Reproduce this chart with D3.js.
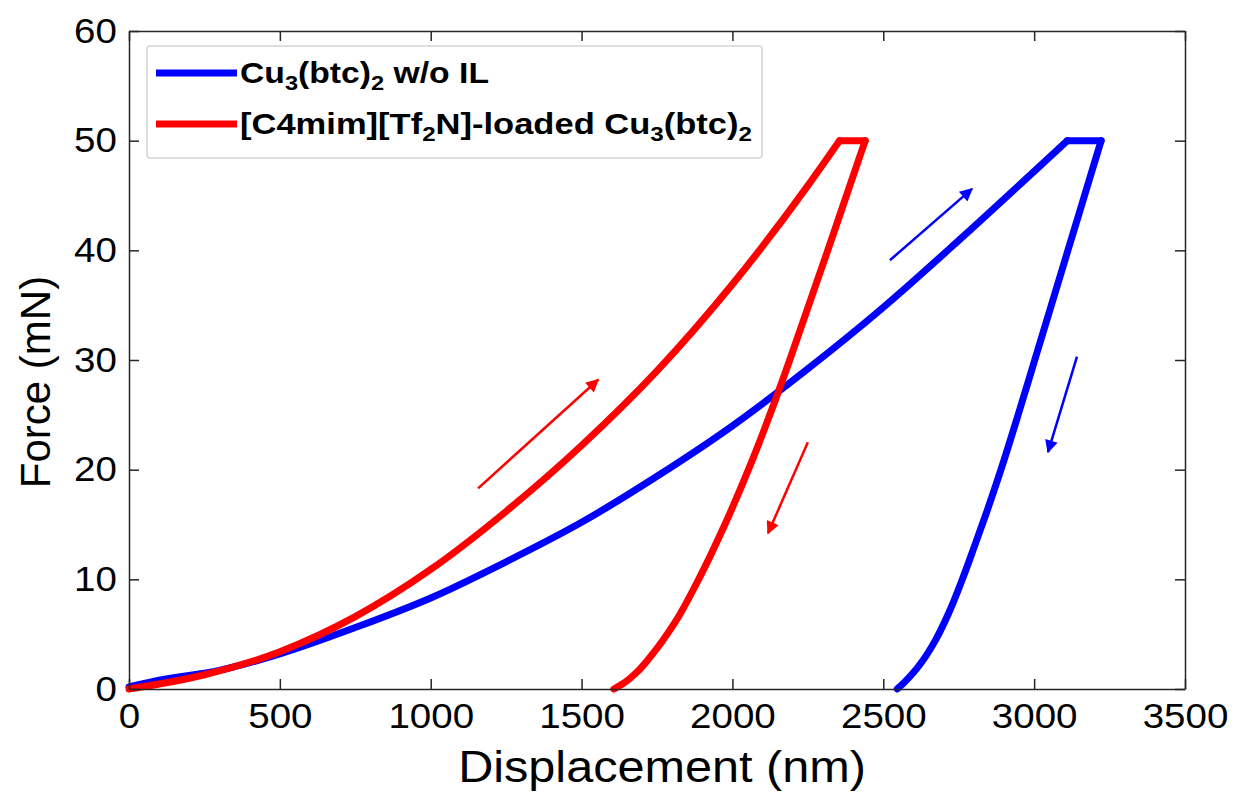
<!DOCTYPE html>
<html>
<head>
<meta charset="utf-8">
<script src="https://cdn.jsdelivr.net/npm/d3@7"></script>
<style>
  body { margin: 0; background: #fff; }
  text { font-family: Arial, "Liberation Sans", Helvetica, sans-serif; fill: #000; }
</style>
</head>
<body>
<script>
let width = 1233;
let height = 797;
let plotLeft = 129, plotRight = 1185, plotTop = 31, plotBottom = 689;

// Cu3(btc)2 w/o IL : loading, hold, unloading
var blueLoadX = [0, 100, 300, 500, 750, 1000, 1250, 1500, 1750, 2000, 2250, 2500, 2750, 3000, 3110];
var blueLoadY = [0.2, 0.8, 1.7, 3.2, 5.6, 8.3, 11.6, 15.2, 19.4, 24.0, 29.2, 34.8, 40.9, 47.2, 50];
var blueHoldX = [3110, 3222];
var blueHoldY = [50, 50];
var blueUnloadX = [3222, 3167, 3112, 3057, 3002, 2947, 2890, 2841, 2802, 2762, 2718, 2674, 2641, 2600, 2566, 2546];
var blueUnloadY = [50, 45, 40, 35, 30, 25, 20, 16, 13, 10, 7, 4.5, 3, 1.5, 0.5, 0];

// [C4mim][Tf2N]-loaded Cu3(btc)2
var redLoadX = [0, 250, 500, 750, 1000, 1250, 1500, 1750, 2000, 2250, 2355];
var redLoadY = [0, 1.3, 3.4, 6.6, 10.9, 16.2, 22.2, 29.0, 36.9, 45.9, 50];
var redHoldX = [2355, 2440];
var redHoldY = [50, 50];
var redUnloadX = [2440, 2378, 2316, 2253, 2190, 2124, 2053, 1975, 1888, 1808, 1730, 1682, 1638, 1607];
var redUnloadY = [50, 45, 40, 35, 30, 25, 20, 15, 10, 6, 3, 1.5, 0.5, 0];

var xTicks = [0, 500, 1000, 1500, 2000, 2500, 3000, 3500];
var yTicks = [0, 10, 20, 30, 40, 50, 60];

// direction arrows [x1, y1, x2, y2]
var redArrows = [[1157, 18.3, 1555, 28.2], [2250, 22.5, 2118, 14.2]];
var blueArrows = [[2522, 39.1, 2794, 45.6], [3142, 30.3, 3046, 21.6]];

var blue = '#0000ff';
var red = '#ff0000';
var axisColor = '#262626';

var svg = d3.select('body')
            .append('svg')
            .attr('width', width)
            .attr('height', height);

var x = d3.scaleLinear().domain([0, 3500]).range([plotLeft, plotRight]);
var y = d3.scaleLinear().domain([0, 60]).range([plotBottom, plotTop]);

function toPoints(xs, ys) {
  return xs.map(function(v, i) { return [v, ys[i]]; });
}

var loadLine = d3.line()
  .x(function(d) { return x(d[0]); })
  .y(function(d) { return y(d[1]); })
  .curve(d3.curveMonotoneX);

// unloading goes back in x, so sort it by force and let it be monotone in y
var unloadLine = d3.line()
  .x(function(d) { return x(d[0]); })
  .y(function(d) { return y(d[1]); })
  .curve(d3.curveMonotoneY);

var holdLine = d3.line()
  .x(function(d) { return x(d[0]); })
  .y(function(d) { return y(d[1]); });

var plot = svg.append('g');

function drawCurve(color, lx, ly, hx, hy, ux, uy) {
  var unload = toPoints(ux, uy).sort(function(a, b) { return a[1] - b[1]; });
  var segs = [[loadLine, toPoints(lx, ly)], [holdLine, toPoints(hx, hy)], [unloadLine, unload]];
  segs.forEach(function(s) {
    plot.append('path').datum(s[1])
      .attr('d', s[0]).attr('fill', 'none').attr('stroke', color)
      .attr('stroke-width', 7).attr('stroke-linejoin', 'round').attr('stroke-linecap', 'round');
  });
}

drawCurve(blue, blueLoadX, blueLoadY, blueHoldX, blueHoldY, blueUnloadX, blueUnloadY);
drawCurve(red, redLoadX, redLoadY, redHoldX, redHoldY, redUnloadX, redUnloadY);

// arrows
var defs = svg.append('defs');
[['headRed', red], ['headBlue', blue]].forEach(function(m) {
  defs.append('marker').attr('id', m[0])
    .attr('viewBox', '0 0 10 10').attr('refX', 9).attr('refY', 5)
    .attr('markerWidth', 17).attr('markerHeight', 13)
    .attr('markerUnits', 'userSpaceOnUse').attr('orient', 'auto')
    .append('path').attr('d', 'M0,0 L10,5 L0,10 Z').attr('fill', m[1]);
});

function drawArrows(list, color, head) {
  plot.selectAll(null).data(list).enter().append('line')
    .attr('x1', function(d) { return x(d[0]); })
    .attr('y1', function(d) { return y(d[1]); })
    .attr('x2', function(d) { return x(d[2]); })
    .attr('y2', function(d) { return y(d[3]); })
    .attr('stroke', color).attr('stroke-width', 2.5)
    .attr('marker-end', 'url(#' + head + ')');
}
drawArrows(redArrows, red, 'headRed');
drawArrows(blueArrows, blue, 'headBlue');

// axes, MATLAB style box with inward ticks
function styleAxis(g) {
  g.selectAll('path, line').attr('stroke', axisColor).attr('stroke-width', 1.5);
  g.selectAll('text').attr('font-size', 35).attr('fill', '#000');
}

var xAxis = svg.append('g').attr('transform', 'translate(0,' + plotBottom + ')')
  .call(d3.axisBottom(x).tickValues(xTicks).tickFormat(d3.format('d'))
    .tickSizeInner(-10).tickSizeOuter(0).tickPadding(14));
styleAxis(xAxis);
xAxis.selectAll('text').attr('transform', 'scale(1.1,1)');

var yAxis = svg.append('g').attr('transform', 'translate(' + plotLeft + ',0)')
  .call(d3.axisLeft(y).tickValues(yTicks).tickFormat(d3.format('d'))
    .tickSizeInner(-10).tickSizeOuter(0).tickPadding(11));
styleAxis(yAxis);
yAxis.selectAll('text').attr('transform', 'scale(1.1,1)');

var xTop = svg.append('g').attr('transform', 'translate(0,' + plotTop + ')')
  .call(d3.axisTop(x).tickValues(xTicks).tickSizeInner(-10).tickSizeOuter(0).tickFormat(''));
styleAxis(xTop);

var yRight = svg.append('g').attr('transform', 'translate(' + plotRight + ',0)')
  .call(d3.axisRight(y).tickValues(yTicks).tickSizeInner(-10).tickSizeOuter(0).tickFormat(''));
styleAxis(yRight);

svg.append('text')
  .attr('transform', 'translate(662,782) scale(1.08,1)')
  .attr('text-anchor', 'middle').attr('font-size', 45)
  .text('Displacement (nm)');

svg.append('text')
  .attr('transform', 'translate(50,382) rotate(-90)')
  .attr('text-anchor', 'middle').attr('font-size', 42)
  .text('Force (mN)');

// legend
var legend = svg.append('g');
legend.append('rect')
  .attr('x', 147).attr('y', 46).attr('width', 615).attr('height', 112).attr('rx', 3)
  .attr('fill', '#fff').attr('stroke', '#d4d4d4').attr('stroke-width', 1.5);

var legendRows = [
  { color: blue, y: 73, w: 249, parts: [['Cu', 0], ['3', 1], ['(btc)', 0], ['2', 1], [' w/o IL', 0]] },
  { color: red, y: 124, w: 512, parts: [['[C4mim][Tf', 0], ['2', 1], ['N]-loaded Cu', 0], ['3', 1], ['(btc)', 0], ['2', 1]] }
];

legendRows.forEach(function(r) {
  legend.append('line')
    .attr('x1', 156).attr('x2', 237).attr('y1', r.y).attr('y2', r.y)
    .attr('stroke', r.color).attr('stroke-width', 7);
  var t = legend.append('text')
    .attr('x', 240).attr('y', r.y + 10)
    .attr('font-size', 30).attr('font-weight', 'bold')
    .attr('textLength', r.w).attr('lengthAdjust', 'spacingAndGlyphs')
    .attr('xml:space', 'preserve');
  var down = false;
  r.parts.forEach(function(p) {
    var ts = t.append('tspan').text(p[0]);
    if (p[1] && !down) { ts.attr('font-size', 21).attr('dy', 7); down = true; }
    else if (!p[1] && down) { ts.attr('dy', -7); down = false; }
    else if (p[1]) { ts.attr('font-size', 21); }
  });
});
</script>
</body>
</html>
